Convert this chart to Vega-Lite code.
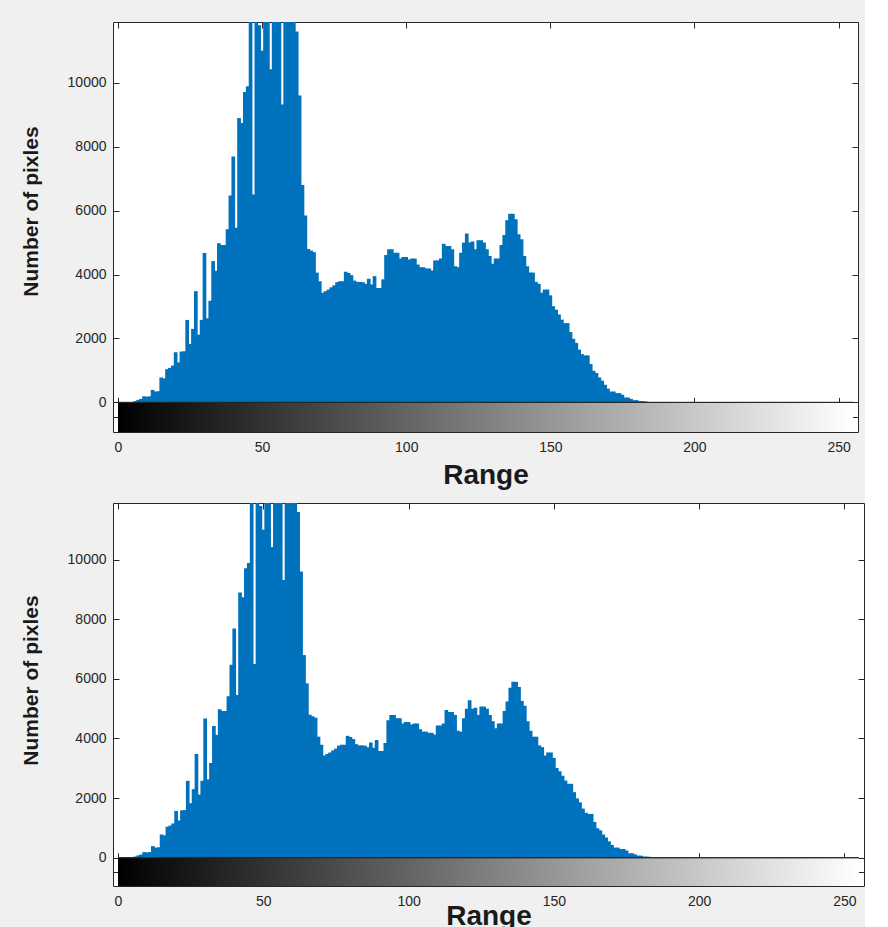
{
  "$schema": "https://vega.github.io/schema/vega-lite/v6.json",
  "background": "#f0f0f0",
  "padding": {"left": 19, "top": 21, "right": 0, "bottom": 0},
  "spacing": 12,
  "config": {
    "view": {"stroke": "#262626", "strokeWidth": 1, "fill": "white"},
    "axis": {"labelFont": "Liberation Sans", "labelFontSize": 14, "labelColor": "#262626", "tickColor": "#262626", "titleColor": "#1a1a1a", "grid": false, "zindex": 1}
  },
  "datasets": {
    "hist": [
      {"bin":0,"count":0},{"bin":1,"count":0},{"bin":2,"count":0},{"bin":3,"count":0},{"bin":4,"count":0},
      {"bin":5,"count":10},{"bin":6,"count":40},{"bin":7,"count":80},{"bin":8,"count":110},{"bin":9,"count":190},
      {"bin":10,"count":180},{"bin":11,"count":190},{"bin":12,"count":390},{"bin":13,"count":340},{"bin":14,"count":350},
      {"bin":15,"count":780},{"bin":16,"count":750},{"bin":17,"count":1040},{"bin":18,"count":1080},{"bin":19,"count":1150},
      {"bin":20,"count":1570},{"bin":21,"count":1250},{"bin":22,"count":1590},{"bin":23,"count":1600},{"bin":24,"count":2580},
      {"bin":25,"count":1830},{"bin":26,"count":2300},{"bin":27,"count":3480},{"bin":28,"count":2120},{"bin":29,"count":2580},
      {"bin":30,"count":4670},{"bin":31,"count":2630},{"bin":32,"count":3180},{"bin":33,"count":4420},{"bin":34,"count":4120},
      {"bin":35,"count":4980},{"bin":36,"count":4920},{"bin":37,"count":4920},{"bin":38,"count":5420},{"bin":39,"count":6470},
      {"bin":40,"count":7690},{"bin":41,"count":5460},{"bin":42,"count":8900},{"bin":43,"count":8740},{"bin":44,"count":9710},
      {"bin":45,"count":9890},{"bin":46,"count":13000},{"bin":47,"count":6500},{"bin":48,"count":13000},{"bin":49,"count":11800},
      {"bin":50,"count":11000},{"bin":51,"count":13000},{"bin":52,"count":13000},{"bin":53,"count":10420},{"bin":54,"count":13000},
      {"bin":55,"count":13000},{"bin":56,"count":13000},{"bin":57,"count":9320},{"bin":58,"count":13000},{"bin":59,"count":13000},
      {"bin":60,"count":13000},{"bin":61,"count":13000},{"bin":62,"count":11600},{"bin":63,"count":9600},{"bin":64,"count":6800},
      {"bin":65,"count":5850},{"bin":66,"count":4800},{"bin":67,"count":4750},{"bin":68,"count":4700},{"bin":69,"count":4060},
      {"bin":70,"count":3790},{"bin":71,"count":3430},{"bin":72,"count":3480},{"bin":73,"count":3530},{"bin":74,"count":3600},
      {"bin":75,"count":3660},{"bin":76,"count":3760},{"bin":77,"count":3790},{"bin":78,"count":3790},{"bin":79,"count":4090},
      {"bin":80,"count":4050},{"bin":81,"count":3980},{"bin":82,"count":3810},{"bin":83,"count":3770},{"bin":84,"count":3770},
      {"bin":85,"count":3760},{"bin":86,"count":3710},{"bin":87,"count":3870},{"bin":88,"count":3690},{"bin":89,"count":3950},
      {"bin":90,"count":3580},{"bin":91,"count":3580},{"bin":92,"count":3850},{"bin":93,"count":4610},{"bin":94,"count":4790},
      {"bin":95,"count":4790},{"bin":96,"count":4680},{"bin":97,"count":4680},{"bin":98,"count":4500},{"bin":99,"count":4550},
      {"bin":100,"count":4550},{"bin":101,"count":4470},{"bin":102,"count":4500},{"bin":103,"count":4500},{"bin":104,"count":4310},
      {"bin":105,"count":4230},{"bin":106,"count":4230},{"bin":107,"count":4190},{"bin":108,"count":4190},{"bin":109,"count":4130},
      {"bin":110,"count":4440},{"bin":111,"count":4440},{"bin":112,"count":4500},{"bin":113,"count":4960},{"bin":114,"count":4890},
      {"bin":115,"count":4890},{"bin":116,"count":4790},{"bin":117,"count":4260},{"bin":118,"count":4230},{"bin":119,"count":4680},
      {"bin":120,"count":5000},{"bin":121,"count":5280},{"bin":122,"count":5000},{"bin":123,"count":5030},{"bin":124,"count":4790},
      {"bin":125,"count":5070},{"bin":126,"count":5070},{"bin":127,"count":5000},{"bin":128,"count":4790},{"bin":129,"count":4580},
      {"bin":130,"count":4340},{"bin":131,"count":4500},{"bin":132,"count":4500},{"bin":133,"count":4920},{"bin":134,"count":5240},
      {"bin":135,"count":5700},{"bin":136,"count":5900},{"bin":137,"count":5900},{"bin":138,"count":5730},{"bin":139,"count":5260},
      {"bin":140,"count":5100},{"bin":141,"count":4580},{"bin":142,"count":4260},{"bin":143,"count":4060},{"bin":144,"count":4060},
      {"bin":145,"count":3770},{"bin":146,"count":3710},{"bin":147,"count":3430},{"bin":148,"count":3530},{"bin":149,"count":3530},
      {"bin":150,"count":3350},{"bin":151,"count":3010},{"bin":152,"count":2900},{"bin":153,"count":2750},{"bin":154,"count":2590},
      {"bin":155,"count":2480},{"bin":156,"count":2480},{"bin":157,"count":2200},{"bin":158,"count":1990},{"bin":159,"count":1860},
      {"bin":160,"count":1650},{"bin":161,"count":1510},{"bin":162,"count":1470},{"bin":163,"count":1470},{"bin":164,"count":1200},
      {"bin":165,"count":990},{"bin":166,"count":920},{"bin":167,"count":780},{"bin":168,"count":680},{"bin":169,"count":550},
      {"bin":170,"count":430},{"bin":171,"count":340},{"bin":172,"count":340},{"bin":173,"count":290},{"bin":174,"count":290},
      {"bin":175,"count":240},{"bin":176,"count":150},{"bin":177,"count":150},{"bin":178,"count":110},{"bin":179,"count":70},
      {"bin":180,"count":70},{"bin":181,"count":40},{"bin":182,"count":40},{"bin":183,"count":30},{"bin":184,"count":10},
      {"bin":185,"count":5},{"bin":186,"count":0},{"bin":187,"count":0},{"bin":188,"count":0},{"bin":189,"count":0},
      {"bin":190,"count":0},{"bin":191,"count":0},{"bin":192,"count":0},{"bin":193,"count":0},{"bin":194,"count":0},
      {"bin":195,"count":0},{"bin":196,"count":0},{"bin":197,"count":0},{"bin":198,"count":0},{"bin":199,"count":0},
      {"bin":200,"count":0},{"bin":201,"count":0},{"bin":202,"count":0},{"bin":203,"count":0},{"bin":204,"count":0},
      {"bin":205,"count":0},{"bin":206,"count":0},{"bin":207,"count":0},{"bin":208,"count":0},{"bin":209,"count":0},
      {"bin":210,"count":0},{"bin":211,"count":0},{"bin":212,"count":0},{"bin":213,"count":0},{"bin":214,"count":0},
      {"bin":215,"count":0},{"bin":216,"count":0},{"bin":217,"count":0},{"bin":218,"count":0},{"bin":219,"count":0},
      {"bin":220,"count":0},{"bin":221,"count":0},{"bin":222,"count":0},{"bin":223,"count":0},{"bin":224,"count":0},
      {"bin":225,"count":0},{"bin":226,"count":0},{"bin":227,"count":0},{"bin":228,"count":0},{"bin":229,"count":0},
      {"bin":230,"count":0},{"bin":231,"count":0},{"bin":232,"count":0},{"bin":233,"count":0},{"bin":234,"count":0},
      {"bin":235,"count":0},{"bin":236,"count":0},{"bin":237,"count":0},{"bin":238,"count":0},{"bin":239,"count":0},
      {"bin":240,"count":0},{"bin":241,"count":0},{"bin":242,"count":0},{"bin":243,"count":0},{"bin":244,"count":0},
      {"bin":245,"count":0},{"bin":246,"count":0},{"bin":247,"count":0},{"bin":248,"count":0},{"bin":249,"count":0},
      {"bin":250,"count":0},{"bin":251,"count":0},{"bin":252,"count":0},{"bin":253,"count":0},{"bin":254,"count":0},
      {"bin":255,"count":0}
    ]
  },
  "vconcat": [
    {
      "width": 745,
      "height": 410,
      "layer": [
        {
          "data": {"name": "hist"},
          "mark": {"type": "bar", "orient": "vertical", "color": "#0072BD", "size": 3.7, "clip": true},
          "encoding": {
            "x": {"field": "bin", "type": "quantitative", "scale": {"domain": [0, 255], "nice": false, "zero": false},
              "axis": {"orient": "bottom", "values": [0, 50, 100, 150, 200, 250], "tickSize": -5, "labelPadding": 13, "domain": false,
                "title": "Range", "titleFont": "Liberation Sans", "titleFontSize": 28, "titleFontWeight": "bold", "titleBaseline": "alphabetic", "titleY": 51}},
            "y": {"field": "count", "type": "quantitative", "scale": {"domain": [-926, 11900], "nice": false, "zero": false},
              "axis": {"orient": "left", "values": [-463, 0, 2000, 4000, 6000, 8000, 10000], "format": "d", "labelExpr": "datum.value < 0 ? '' : datum.label",
                "tickSize": -6, "labelPadding": 13, "domain": false,
                "title": "Number of pixles", "titleFont": "Liberation Sans", "titleFontSize": 21, "titleFontWeight": "bold",
                "titleAngle": -90, "titleBaseline": "middle", "titleAlign": "center", "titleX": -82, "titleY": 189}}
          }
        },
        {
          "data": {"values": [{}]},
          "mark": {"type": "rect", "fill": {"gradient": "linear", "x1": 0, "y1": 0, "x2": 1, "y2": 0, "stops": [{"offset": 0, "color": "#000000"}, {"offset": 1, "color": "#ffffff"}]}},
          "encoding": {
            "x": {"datum": 0, "type": "quantitative", "scale": {"domain": [0, 255], "nice": false, "zero": false},
              "axis": {"orient": "top", "values": [0, 50, 100, 150, 200, 250], "tickSize": -6, "labels": false, "domain": false, "title": null}},
            "x2": {"datum": 255},
            "y": {"datum": 0, "type": "quantitative", "scale": {"domain": [-926, 11900], "nice": false, "zero": false},
              "axis": {"orient": "right", "values": [-463, 0, 2000, 4000, 6000, 8000, 10000], "tickSize": -6, "labels": false, "domain": false, "title": null}},
            "y2": {"datum": -926}
          }
        },
        {
          "data": {"values": [{}]},
          "mark": {"type": "rule", "color": "#262626", "strokeWidth": 1},
          "encoding": {
            "x": {"datum": 0, "type": "quantitative", "scale": {"domain": [0, 255], "nice": false, "zero": false},
              "axis": {"orient": "bottom", "offset": -29.6, "values": [0, 50, 100, 150, 200, 250], "tickSize": -5, "labels": false, "domain": false, "title": null}},
            "x2": {"datum": 255},
            "y": {"datum": 0, "type": "quantitative", "scale": {"domain": [-926, 11900], "nice": false, "zero": false}, "axis": null}
          }
        },
        {
          "data": {"values": [{}]},
          "mark": {"type": "rule", "color": "#262626", "strokeWidth": 1},
          "encoding": {
            "x": {"datum": 0, "type": "quantitative", "scale": {"domain": [0, 255], "nice": false, "zero": false},
              "axis": {"orient": "bottom", "offset": -29.6, "values": [0, 50, 100, 150, 200, 250], "tickSize": 5, "labels": false, "domain": false, "title": null}},
            "x2": {"datum": 255},
            "y": {"datum": 0, "type": "quantitative", "scale": {"domain": [-926, 11900], "nice": false, "zero": false}, "axis": null}
          }
        }
      ],
      "resolve": {"axis": {"x": "independent", "y": "independent"}}
    },
    {
      "width": 751,
      "height": 383,
      "layer": [
        {
          "data": {"name": "hist"},
          "mark": {"type": "bar", "orient": "vertical", "color": "#0072BD", "size": 3.7, "clip": true},
          "encoding": {
            "x": {"field": "bin", "type": "quantitative", "scale": {"domain": [0, 255], "nice": false, "zero": false},
              "axis": {"orient": "bottom", "values": [0, 50, 100, 150, 200, 250], "tickSize": -5, "labelPadding": 13, "domain": false,
                "title": "Range", "titleFont": "Liberation Sans", "titleFontSize": 28, "titleFontWeight": "bold", "titleBaseline": "alphabetic", "titleY": 38}},
            "y": {"field": "count", "type": "quantitative", "scale": {"domain": [-948, 11900], "nice": false, "zero": false},
              "axis": {"orient": "left", "values": [-474, 0, 2000, 4000, 6000, 8000, 10000], "format": "d", "labelExpr": "datum.value < 0 ? '' : datum.label",
                "tickSize": -6, "labelPadding": 13, "domain": false,
                "title": "Number of pixles", "titleFont": "Liberation Sans", "titleFontSize": 21, "titleFontWeight": "bold",
                "titleAngle": -90, "titleBaseline": "middle", "titleAlign": "center", "titleX": -82, "titleY": 177}}
          }
        },
        {
          "data": {"values": [{}]},
          "mark": {"type": "rect", "fill": {"gradient": "linear", "x1": 0, "y1": 0, "x2": 1, "y2": 0, "stops": [{"offset": 0, "color": "#000000"}, {"offset": 1, "color": "#ffffff"}]}},
          "encoding": {
            "x": {"datum": 0, "type": "quantitative", "scale": {"domain": [0, 255], "nice": false, "zero": false},
              "axis": {"orient": "top", "values": [0, 50, 100, 150, 200, 250], "tickSize": -6, "labels": false, "domain": false, "title": null}},
            "x2": {"datum": 255},
            "y": {"datum": 0, "type": "quantitative", "scale": {"domain": [-948, 11900], "nice": false, "zero": false},
              "axis": {"orient": "right", "values": [-474, 0, 2000, 4000, 6000, 8000, 10000], "tickSize": -6, "labels": false, "domain": false, "title": null}},
            "y2": {"datum": -948}
          }
        },
        {
          "data": {"values": [{}]},
          "mark": {"type": "rule", "color": "#262626", "strokeWidth": 1},
          "encoding": {
            "x": {"datum": 0, "type": "quantitative", "scale": {"domain": [0, 255], "nice": false, "zero": false},
              "axis": {"orient": "bottom", "offset": -28.3, "values": [0, 50, 100, 150, 200, 250], "tickSize": -5, "labels": false, "domain": false, "title": null}},
            "x2": {"datum": 255},
            "y": {"datum": 0, "type": "quantitative", "scale": {"domain": [-948, 11900], "nice": false, "zero": false}, "axis": null}
          }
        },
        {
          "data": {"values": [{}]},
          "mark": {"type": "rule", "color": "#262626", "strokeWidth": 1},
          "encoding": {
            "x": {"datum": 0, "type": "quantitative", "scale": {"domain": [0, 255], "nice": false, "zero": false},
              "axis": {"orient": "bottom", "offset": -28.3, "values": [0, 50, 100, 150, 200, 250], "tickSize": 5, "labels": false, "domain": false, "title": null}},
            "x2": {"datum": 255},
            "y": {"datum": 0, "type": "quantitative", "scale": {"domain": [-948, 11900], "nice": false, "zero": false}, "axis": null}
          }
        }
      ],
      "resolve": {"axis": {"x": "independent", "y": "independent"}}
    }
  ]
}
